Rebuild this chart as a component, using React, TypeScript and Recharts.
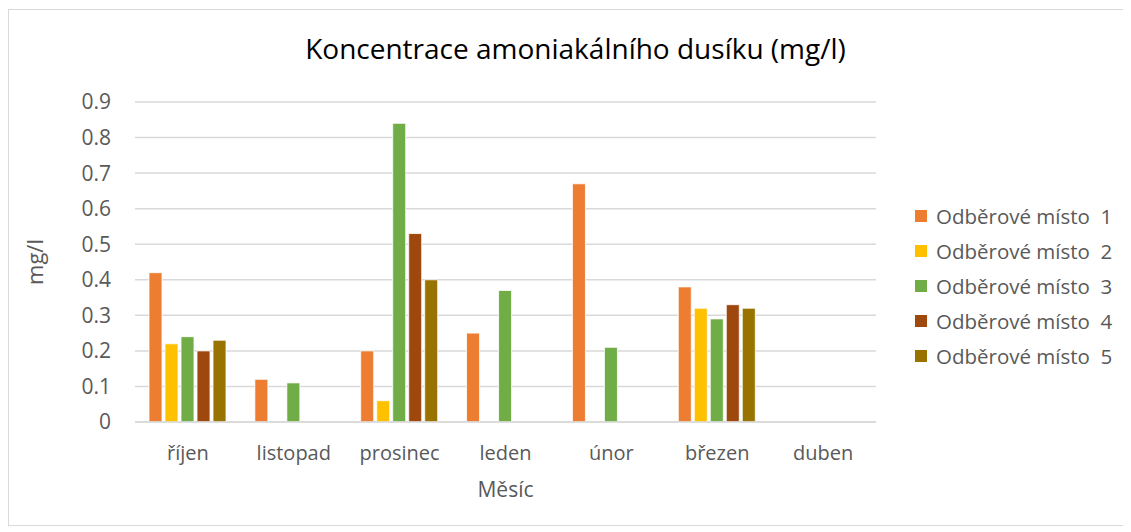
import { Bar, BarChart, CartesianGrid, Label, Legend, XAxis, YAxis } from 'recharts'

const months = ['říjen', 'listopad', 'prosinec', 'leden', 'únor', 'březen', 'duben']

const site1 = [0.42, 0.12, 0.2, 0.25, 0.67, 0.38, null]
const site2 = [0.22, null, 0.06, null, null, 0.32, null]
const site3 = [0.24, 0.11, 0.84, 0.37, 0.21, 0.29, null]
const site4 = [0.2, null, 0.53, null, null, 0.33, null]
const site5 = [0.23, null, 0.4, null, null, 0.32, null]

const yTicks = [0, 0.1, 0.2, 0.3, 0.4, 0.5, 0.6, 0.7, 0.8, 0.9]

const series = [
  { key: 's1', name: 'Odběrové místo  1', color: '#ED7D31', values: site1 },
  { key: 's2', name: 'Odběrové místo  2', color: '#FFC000', values: site2 },
  { key: 's3', name: 'Odběrové místo  3', color: '#70AD47', values: site3 },
  { key: 's4', name: 'Odběrové místo  4', color: '#9E480E', values: site4 },
  { key: 's5', name: 'Odběrové místo  5', color: '#997300', values: site5 },
]

const chartData = months.map((month, i) => {
  const row: Record<string, string | number | null> = { month }
  series.forEach((s) => {
    row[s.key] = s.values[i]
  })
  return row
})

const font = '"Open Sans", "Noto Sans", sans-serif'
const textColor = '#595959'

function LegendContent() {
  return (
    <div style={{ fontFamily: font, fontSize: 20.5, color: textColor }}>
      {series.map((s) => (
        <div key={s.key} style={{ display: 'flex', alignItems: 'center', height: 35 }}>
          <span style={{ width: 12, height: 12, background: s.color, marginRight: 9 }} />
          <span style={{ whiteSpace: 'pre' }}>{s.name}</span>
        </div>
      ))}
    </div>
  )
}

export default function App() {
  return (
    <div
      style={{
        position: 'relative',
        width: 1115,
        height: 515,
        border: '1px solid #d9d9d9',
        marginTop: 1,
        background: '#fff',
      }}
    >
      <div
        style={{
          position: 'absolute',
          top: 19,
          left: 0,
          width: 1133,
          textAlign: 'center',
          fontFamily: font,
          fontSize: 28,
          color: '#000',
        }}
      >
        Koncentrace amoniakálního dusíku (mg/l)
      </div>
      <BarChart
        width={1115}
        height={515}
        data={chartData}
        margin={{ top: 92, right: 28, bottom: 28, left: 66 }}
        barGap={3}
        barCategoryGap={14}
      >
        <CartesianGrid vertical={false} stroke="#d9d9d9" strokeWidth={1.5} />
        <XAxis
          dataKey="month"
          axisLine={{ stroke: '#d9d9d9', strokeWidth: 1.5 }}
          tickLine={false}
          tick={{ fill: textColor, fontSize: 20, fontFamily: font }}
          tickMargin={18}
          height={75}
        >
          <Label
            value="Měsíc"
            position="insideBottom"
            offset={0}
            style={{ fill: textColor, fontSize: 21, fontFamily: font }}
          />
        </XAxis>
        <YAxis
          domain={[0, 0.9]}
          ticks={yTicks}
          axisLine={false}
          tickLine={false}
          tick={{ fill: textColor, fontSize: 21, fontFamily: font }}
          tickMargin={18}
          width={60}
          interval={0}
        >
          <Label
            value="mg/l"
            angle={-90}
            position="insideLeft"
            offset={-40}
            style={{ fill: textColor, fontSize: 22, fontFamily: font, textAnchor: 'middle' }}
          />
        </YAxis>
        <Legend
          layout="vertical"
          verticalAlign="top"
          align="right"
          content={<LegendContent />}
          wrapperStyle={{ position: 'absolute', left: 906, top: 188, width: 220 }}
        />
        {series.map((s) => (
          <Bar
            key={s.key}
            dataKey={s.key}
            name={s.name}
            fill={s.color}
            stroke="#fff"
            strokeWidth={0.8}
            isAnimationActive={false}
          />
        ))}
      </BarChart>
    </div>
  )
}
